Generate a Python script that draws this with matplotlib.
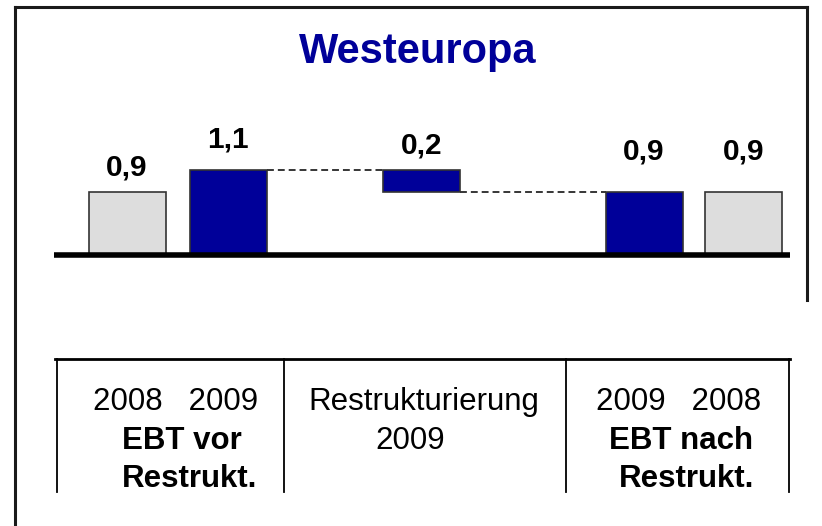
import matplotlib

matplotlib.use("Agg")
import matplotlib.pyplot as plt

plt.rcParams["font.family"] = ["Liberation Sans", "DejaVu Sans"]

# EBT bridge, Western Europe (bn)
categories = ["2008", "2009", "Restrukturierung 2009", "2009", "2008"]
values = [0.9, 1.1, 0.2, 0.9, 0.9]
title = "Westeuropa"

# group captions under the chart: (lines, bold flags)
group_lines = [
    ["2008   2009", "EBT vor", "Restrukt."],
    ["Restrukturierung", "2009"],
    ["2009   2008", "EBT nach", "Restrukt."],
]
group_bold = [
    [False, True, True],
    [False, False],
    [False, True, True],
]

# layout
slots = [0.0, 1.01, 2.945, 5.17, 6.165]
bar_width = 0.77
label_gap_px = [17, 22, 17, 33, 33]
NAVY = "#000099"
GREY = "#dddddd"
colors = [GREY, NAVY, NAVY, NAVY, GREY]

W, H = 822, 526
fig = plt.figure(figsize=(W / 100, H / 100), dpi=100)

# background layer in pixel units: frame, title, caption table
bg = fig.add_axes([0, 0, 1, 1])
bg.set_xlim(0, W)
bg.set_ylim(H, 0)
bg.axis("off")

frame_kw = dict(color="#1a1a1a", lw=2.2, solid_capstyle="projecting")
bg.plot([15, 807], [7, 7], **frame_kw)
bg.plot([15, 15], [7, H], **frame_kw)
bg.plot([807, 807], [7, 300], **frame_kw)

bg.text(418, 63, title, ha="center", va="baseline", fontsize=30,
        fontweight="bold", color=NAVY)

# caption table
bg.plot([55, 790], [359, 359], color="black", lw=2.0)
for xv in [57, 284, 566, 789]:
    bg.plot([xv, xv], [359, 492], color="black", lw=1.3)

baselines = [410, 449, 487]
text_left = [
    [93, 122, 122],
    [308, 375],
    [596, 609, 619],
]
for lines, bolds, lefts in zip(group_lines, group_bold, text_left):
    for line, bold, left, base in zip(lines, bolds, lefts, baselines):
        bg.text(left, base, line, ha="left", va="baseline", fontsize=22.5,
                fontweight="bold" if bold else "normal", color="black")

# bar chart (axis line at y=255 px, value 1.1 at y=170 px)
px_per_unit = 110.0
y_bottom = 1.1 - 85 / px_per_unit
ax = fig.add_axes([54 / W, (H - 255) / H, (790 - 54) / W, 155 / H])
ax.set_xlim(-0.73, 6.63)
ax.set_ylim(y_bottom, y_bottom + 155 / px_per_unit)
ax.patch.set_alpha(0)
for side in ["top", "left", "right"]:
    ax.spines[side].set_visible(False)
ax.spines["bottom"].set_linewidth(4)
ax.spines["bottom"].set_capstyle("butt")
ax.set_xticks([])
ax.set_yticks([])

# waterfall: the restructuring step floats between the two EBT levels
bottoms = [0, 0, values[1] - values[2], 0, 0]
tops = [b + v for b, v in zip(bottoms, values)]
ax.bar(slots, values, bottom=bottoms, width=bar_width, color=colors,
       edgecolor="#333333", linewidth=1.2, zorder=2)

# connectors
half = bar_width / 2
dash_kw = dict(color="black", lw=1.1, linestyle=(0, (4.5, 2.6)), zorder=1)
ax.plot([slots[1] + half, slots[2] - half], [tops[1], tops[1]], **dash_kw)
ax.plot([slots[2] + half, slots[3] - half], [bottoms[2], bottoms[2]], **dash_kw)

for x, top, v, gap in zip(slots, tops, values, label_gap_px):
    ax.annotate(f"{v:.1f}".replace(".", ","), (x, top),
                xytext=(0, gap * 0.72), textcoords="offset points",
                ha="center", va="baseline", fontsize=21.5,
                fontweight="bold", color="black", annotation_clip=False)

fig.savefig("out.png", dpi=100)
